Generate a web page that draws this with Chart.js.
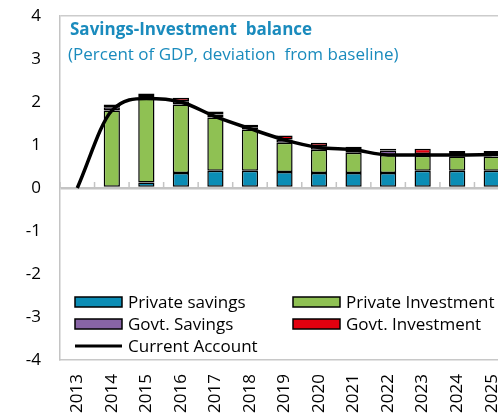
<!DOCTYPE html>
<html>
<head>
<meta charset="utf-8"/>
<style>
  body { margin: 0; padding: 0; overflow: hidden; background: #fff; }
  #wrap { width: 498px; height: 420px; overflow: hidden; }
</style>
<script src="https://cdn.jsdelivr.net/npm/chart.js@4/dist/chart.umd.min.js"></script>
</head>
<body>
<div id="wrap"><canvas id="chart" width="509" height="420"></canvas></div>
<script>
var years = ['2013','2014','2015','2016','2017','2018','2019','2020','2021','2022','2023','2024','2025'];
var privateSavings    = [0, -0.03, 0.13, 0.35, 0.40, 0.40, 0.37, 0.35, 0.35, 0.35, 0.40, 0.40, 0.40];
var privateInvestment = [0, 1.80, 1.97, 1.59, 1.24, 0.96, 0.68, 0.54, 0.47, 0.42, 0.35, 0.33, 0.33];
var govtSavings       = [0, 0.08, 0.06, 0.08, 0.07, 0.04, 0.08, 0.08, 0.07, 0.10, 0.04, 0.06, 0.06];
var govtInvestment    = [0, 0.06, 0.04, 0.08, 0.07, 0.07, 0.09, 0.08, 0.07, 0.04, 0.12, 0.07, 0.07];
var currentAccount    = [0, 1.80, 2.08, 2.00, 1.66, 1.38, 1.12, 0.94, 0.89, 0.77, 0.77, 0.77, 0.78];

var FONT = '"Open Sans", "DejaVu Sans", sans-serif';
var titleColor = '#1a8bbd';

// legend layout: [label, color, kind, column, row]
var legendItems = [
  ['Private savings', '#0b8db5', 'box', 0, 0],
  ['Private Investment', '#8fc153', 'box', 1, 0],
  ['Govt. Savings', '#8864a6', 'box', 0, 1],
  ['Govt. Investment', '#e2000f', 'box', 1, 1],
  ['Current Account', '#000000', 'line', 0, 2]
];

var decor = {
  id: 'decor',
  beforeDatasetsDraw: function(chart) {
    var ctx = chart.ctx, xs = chart.scales.x, ys = chart.scales.y;
    var band = xs.getPixelForValue(1) - xs.getPixelForValue(0);
    var y0 = ys.getPixelForValue(0);
    ctx.save();
    ctx.strokeStyle = '#c4c4c4';
    ctx.lineWidth = 1.5;
    for (var i = 0; i <= years.length; i++) {
      var x = xs.getPixelForValue(0) - band / 2 + i * band;
      ctx.beginPath();
      ctx.moveTo(x, y0 - 6);
      ctx.lineTo(x, y0);
      ctx.stroke();
    }
    ctx.restore();
  },
  afterDraw: function(chart) {
    var ctx = chart.ctx, a = chart.chartArea;
    ctx.save();
    ctx.fillStyle = titleColor;
    ctx.textBaseline = 'alphabetic';
    ctx.font = 'bold 17px ' + FONT;
    ctx.fillText('Savings-Investment  balance', a.left + 10, 35);
    ctx.font = '17px ' + FONT;
    ctx.fillText('(Percent of GDP, deviation  from baseline)', a.left + 8, 60);

    legendItems.forEach(function(it) {
      var bx = a.left + 15 + it[3] * 218;
      var cy = 302 + it[4] * 22;
      if (it[2] === 'box') {
        ctx.fillStyle = it[1];
        ctx.fillRect(bx, cy - 5, 47, 10);
        ctx.strokeStyle = '#000';
        ctx.lineWidth = 1.5;
        ctx.strokeRect(bx, cy - 5, 47, 10);
      } else {
        ctx.strokeStyle = it[1];
        ctx.lineWidth = 3;
        ctx.beginPath();
        ctx.moveTo(bx, cy);
        ctx.lineTo(bx + 47, cy);
        ctx.stroke();
      }
      ctx.fillStyle = '#000';
      ctx.textBaseline = 'middle';
      ctx.fillText(it[0], bx + 53, cy + 1);
    });
    ctx.restore();
  }
};

function barSet(label, data, color) {
  return {
    type: 'bar', label: label, data: data, backgroundColor: color,
    borderColor: '#000', borderWidth: 1.5, borderSkipped: false,
    stack: 'si', order: 1, barPercentage: 0.47, categoryPercentage: 1
  };
}

new Chart(document.getElementById('chart'), {
  data: {
    labels: years,
    datasets: [
      {
        type: 'line', label: 'Current Account', data: currentAccount,
        borderColor: '#000', borderWidth: 3.5, pointRadius: 0,
        cubicInterpolationMode: 'monotone', stack: 'ca', order: 0, fill: false
      },
      barSet('Private savings', privateSavings, legendItems[0][1]),
      barSet('Private Investment', privateInvestment, legendItems[1][1]),
      barSet('Govt. Savings', govtSavings, legendItems[2][1]),
      barSet('Govt. Investment', govtInvestment, legendItems[3][1])
    ]
  },
  options: {
    responsive: false,
    animation: false,
    layout: { padding: { top: 16, right: 0, left: 0, bottom: 0 } },
    plugins: { legend: { display: false }, tooltip: { enabled: false }, title: { display: false } },
    scales: {
      x: {
        stacked: true,
        afterFit: function(s) { s.height = 60; s.paddingLeft = 0; s.paddingRight = 0; s.paddingTop = 0; s.paddingBottom = 0; },
        grid: { display: false, drawTicks: false },
        border: { display: true, color: '#c8c8c8', width: 1.5 },
        ticks: {
          minRotation: 90, maxRotation: 90, padding: 14,
          color: '#000', font: { family: FONT, size: 17 }
        }
      },
      y: {
        stacked: true, min: -4, max: 4,
        afterFit: function(s) { s.width = 60; s.paddingTop = 0; s.paddingBottom = 0; },
        grid: {
          drawTicks: false,
          color: function(c) {
            if (c.tick.value === 0) return '#c4c4c4';
            if (c.tick.value === 4) return '#cccccc';
            return 'rgba(0,0,0,0)';
          },
          lineWidth: function(c) { return c.tick.value === 0 ? 2.5 : 1.5; }
        },
        border: { display: true, color: '#c4c4c4', width: 1.5 },
        ticks: {
          stepSize: 1, padding: 19, color: '#000',
          font: { family: FONT, size: 17 }
        }
      }
    }
  },
  plugins: [decor]
});
</script>
</body>
</html>
